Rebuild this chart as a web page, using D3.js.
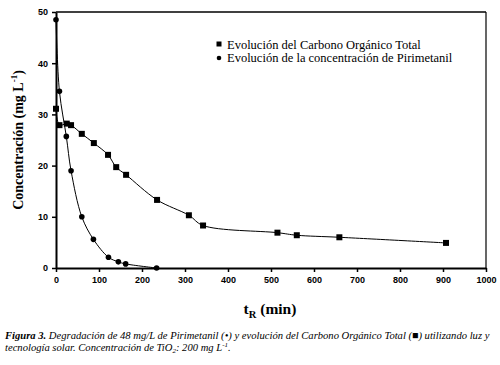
<!DOCTYPE html>
<html><head><meta charset="utf-8">
<script src="https://cdn.jsdelivr.net/npm/d3@7"></script>
<style>body{margin:0;background:#fff}svg{display:block}</style>
</head><body>
<svg id="c" width="500" height="365"></svg>
<script>
const tocTime = [0, 8, 25, 35, 60, 88, 121, 140, 163, 235, 309, 342, 515, 560, 659, 907];
const tocValue = [31.1, 27.9, 28.2, 27.9, 26.2, 24.4, 22.1, 19.7, 18.2, 13.3, 10.3, 8.3, 6.9, 6.4, 6.0, 4.9];
const pyrTime = [0, 8, 24, 35, 60, 87, 122, 145, 162, 234];
const pyrValue = [48.5, 34.5, 25.7, 19.0, 10.0, 5.6, 2.1, 1.2, 0.8, 0.0];
const xTicks = [0, 100, 200, 300, 400, 500, 600, 700, 800, 900, 1000];
const yTicks = [0, 10, 20, 30, 40, 50];
const seriesNames = ["Evolución del Carbono Orgánico Total", "Evolución de la concentración de Pirimetanil"];

const svg = d3.select("#c");
const L = 56, R = 486, T = 12, B = 268;
const x = d3.scaleLinear().domain([0, 1000]).range([L, R]);
const y = d3.scaleLinear().domain([0, 50]).range([B, T]);

// frame
svg.append("line").attr("x1", L).attr("x2", R).attr("y1", T).attr("y2", T).attr("stroke", "#000").attr("stroke-width", 1.5);
svg.append("line").attr("x1", R).attr("x2", R).attr("y1", T).attr("y2", B).attr("stroke", "#000").attr("stroke-width", 1.2);

const xAxis = svg.append("g").attr("transform", `translate(0,${B})`)
  .call(d3.axisBottom(x).tickValues(xTicks).tickFormat(d3.format("d")).tickSize(4).tickSizeOuter(0));
const yAxis = svg.append("g").attr("transform", `translate(${L},0)`)
  .call(d3.axisLeft(y).tickValues(yTicks).tickFormat(d3.format("d")).tickSize(4).tickSizeOuter(0));
[xAxis, yAxis].forEach(g => {
  g.select(".domain").attr("stroke", "#000").attr("stroke-width", 2);
  g.selectAll(".tick line").attr("stroke", "#000").attr("stroke-width", 1.5);
  g.selectAll("text").attr("font-family", "Liberation Sans, Arial, sans-serif")
    .attr("font-size", 9).attr("font-weight", "bold").attr("fill", "#000");
});
xAxis.selectAll("text").attr("dy", "0.9em");
yAxis.selectAll("text").attr("dx", "-1");

const line = d3.line().x(d => x(d[0])).y(d => y(d[1])).curve(d3.curveCatmullRom.alpha(0.5));
const toc = tocTime.map((t, i) => [t, tocValue[i]]);
const pyr = pyrTime.map((t, i) => [t, pyrValue[i]]);

svg.append("path").datum(toc).attr("d", line).attr("fill", "none").attr("stroke", "#000").attr("stroke-width", 1);
svg.append("path").datum(pyr).attr("d", line).attr("fill", "none").attr("stroke", "#000").attr("stroke-width", 1);

svg.selectAll(".sq").data(toc).enter().append("rect")
  .attr("x", d => x(d[0]) - 3).attr("y", d => y(d[1]) - 3).attr("width", 6).attr("height", 6).attr("fill", "#000");
svg.selectAll(".ci").data(pyr).enter().append("circle")
  .attr("cx", d => x(d[0])).attr("cy", d => y(d[1])).attr("r", 2.8).attr("fill", "#000");

// legend
const lg = svg.append("g").attr("font-family", "Liberation Serif, Times New Roman, serif").attr("font-size", 12.5);
lg.append("rect").attr("x", 216.5).attr("y", 41.5).attr("width", 5).attr("height", 5).attr("fill", "#000");
lg.append("circle").attr("cx", 219).attr("cy", 58).attr("r", 2.3).attr("fill", "#000");
lg.append("text").attr("x", 227).attr("y", 48.5).text(seriesNames[0]);
lg.append("text").attr("x", 227).attr("y", 62).text(seriesNames[1]);

// axis titles
const yt = svg.append("text").attr("transform", "translate(23,140) rotate(-90)")
  .attr("text-anchor", "middle").attr("font-family", "Liberation Serif, Times New Roman, serif")
  .attr("font-size", 14).attr("font-weight", "bold");
yt.append("tspan").text("Concentración (mg L");
yt.append("tspan").attr("font-size", 9).attr("dy", -6).text("-1");
yt.append("tspan").attr("dy", 6).text(")");

const xt = svg.append("text").attr("x", 270).attr("y", 314)
  .attr("text-anchor", "middle").attr("font-family", "Liberation Serif, Times New Roman, serif")
  .attr("font-size", 15.5).attr("font-weight", "bold");
xt.append("tspan").text("t");
xt.append("tspan").attr("font-size", 10.5).attr("dy", 4).text("R");
xt.append("tspan").attr("dy", -4).text(" (min)");

// caption
const cap = svg.append("g").attr("font-family", "Liberation Serif, Times New Roman, serif")
  .attr("font-size", 10.6).attr("font-style", "italic");
const c1 = cap.append("text").attr("x", 5).attr("y", 339);
c1.append("tspan").attr("font-weight", "bold").text("Figura 3.");
c1.append("tspan").text(" Degradación de 48 mg/L de Pirimetanil (•) y evolución del Carbono Orgánico Total (■) utilizando luz y");
const c2 = cap.append("text").attr("x", 5).attr("y", 351);
c2.append("tspan").text("tecnología solar. Concentración de TiO");
c2.append("tspan").attr("font-size", 7).attr("dy", 2).text("2");
c2.append("tspan").attr("dy", -2).text(": 200 mg L");
c2.append("tspan").attr("font-size", 7).attr("dy", -4).text("-1");
c2.append("tspan").attr("dy", 4).text(".");
</script>
</body></html>
